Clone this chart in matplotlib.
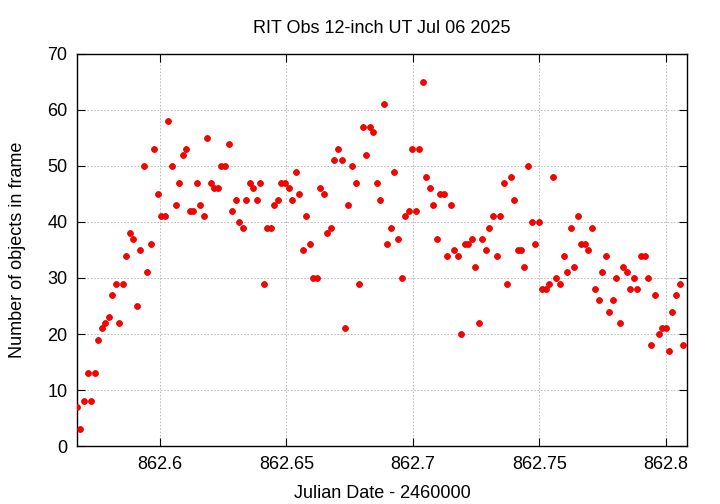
import numpy as np
import matplotlib.pyplot as plt

plt.rcParams['font.family'] = ['Liberation Sans', 'DejaVu Sans']

# Julian date - 2460000
jd = [862.5672, 862.5685, 862.5700, 862.5714, 862.5727, 862.5742, 862.5755, 862.5770,
      862.5783, 862.5797, 862.5810, 862.5825, 862.5838, 862.5853, 862.5867, 862.5880,
      862.5895, 862.5908, 862.5922, 862.5936, 862.5950, 862.5963, 862.5978, 862.5992,
      862.6005, 862.6020, 862.6033, 862.6048, 862.6062, 862.6075, 862.6090, 862.6104,
      862.6117, 862.6132, 862.6145, 862.6160, 862.6173, 862.6187, 862.6202, 862.6215,
      862.6229, 862.6243, 862.6257, 862.6272, 862.6285, 862.6299, 862.6314, 862.6327,
      862.6341, 862.6355, 862.6369, 862.6382, 862.6397, 862.6411, 862.6424, 862.6439,
      862.6452, 862.6467, 862.6480, 862.6494, 862.6509, 862.6522, 862.6536, 862.6550,
      862.6564, 862.6579, 862.6592, 862.6606, 862.6619, 862.6634, 862.6648, 862.6662,
      862.6676, 862.6689, 862.6704, 862.6718, 862.6731, 862.6745, 862.6759, 862.6773,
      862.6787, 862.6801, 862.6816, 862.6829, 862.6843, 862.6856, 862.6871, 862.6885,
      862.6899, 862.6913, 862.6926, 862.6941, 862.6955, 862.6968, 862.6983, 862.6996,
      862.7011, 862.7025, 862.7038, 862.7053, 862.7066, 862.7080, 862.7095, 862.7108,
      862.7123, 862.7136, 862.7150, 862.7163, 862.7178, 862.7191, 862.7206, 862.7219,
      862.7233, 862.7247, 862.7261, 862.7274, 862.7289, 862.7302, 862.7316, 862.7331,
      862.7344, 862.7359, 862.7372, 862.7386, 862.7399, 862.7414, 862.7428, 862.7441,
      862.7456, 862.7469, 862.7484, 862.7498, 862.7511, 862.7526, 862.7539, 862.7553,
      862.7567, 862.7581, 862.7596, 862.7609, 862.7623, 862.7636, 862.7651, 862.7664,
      862.7679, 862.7692, 862.7706, 862.7719, 862.7734, 862.7748, 862.7762, 862.7776,
      862.7789, 862.7804, 862.7818, 862.7831, 862.7846, 862.7859, 862.7874, 862.7887,
      862.7901, 862.7916, 862.7929, 862.7943, 862.7957, 862.7971, 862.7984, 862.7999,
      862.8012, 862.8026, 862.8040, 862.8054, 862.8069]

# number of objects found in each frame
nobj = [7, 3, 8, 13, 8, 13, 19, 21, 22, 23, 27, 29, 22, 29, 34, 38, 37, 25, 35, 50,
        31, 36, 53, 45, 41, 41, 58, 50, 43, 47, 52, 53, 42, 42, 47, 43, 41, 55, 47, 46,
        46, 50, 50, 54, 42, 44, 40, 39, 44, 47, 46, 44, 47, 29, 39, 39, 43, 44, 47, 47,
        46, 44, 49, 45, 35, 41, 36, 30, 30, 46, 45, 38, 39, 51, 53, 51, 21, 43, 50, 47,
        29, 57, 52, 57, 56, 47, 44, 61, 36, 39, 49, 37, 30, 41, 42, 53, 42, 53, 65, 48,
        46, 43, 37, 45, 45, 34, 43, 35, 34, 20, 36, 36, 37, 32, 22, 37, 35, 39, 41, 34,
        41, 47, 29, 48, 44, 35, 35, 32, 50, 40, 36, 40, 28, 28, 29, 48, 30, 29, 34, 31,
        39, 32, 41, 36, 36, 35, 39, 28, 26, 31, 34, 24, 26, 30, 22, 32, 31, 28, 30, 28,
        34, 34, 30, 18, 27, 20, 21, 21, 17, 24, 27, 29, 18]

xticks = [862.6, 862.65, 862.7, 862.75, 862.8]
xticklabels = ['862.6', '862.65', '862.7', '862.75', '862.8']
yticks = np.arange(0, 71, 10)

fig = plt.figure(figsize=(7.2, 5.04), dpi=100)
ax = fig.add_axes([0.107, 0.115, 0.847, 0.778])

ax.plot(jd, nobj, 'o', color='#ff0000', markersize=4.2, markeredgecolor='#e00000',
        markeredgewidth=0.6, zorder=3)

ax.set_xlim(862.5672, 862.8083)
ax.set_ylim(0, 70)
ax.set_xticks(xticks)
ax.set_xticklabels(xticklabels)
ax.set_yticks(yticks)

ax.grid(True, color='#b0b0b0', linestyle=(0, (2, 2)), linewidth=0.6)
ax.tick_params(direction='in', top=True, right=True, length=6, width=0.8,
               labelsize=13, pad=7)
for s in ax.spines.values():
    s.set_linewidth(1.0)

ax.set_title('RIT Obs 12-inch UT Jul 06 2025', fontsize=13, pad=15)
ax.set_xlabel('Julian Date - 2460000', fontsize=13, labelpad=9)
ax.set_ylabel('Number of objects in frame', fontsize=13, labelpad=15)

fig.savefig('out.png', dpi=100)
